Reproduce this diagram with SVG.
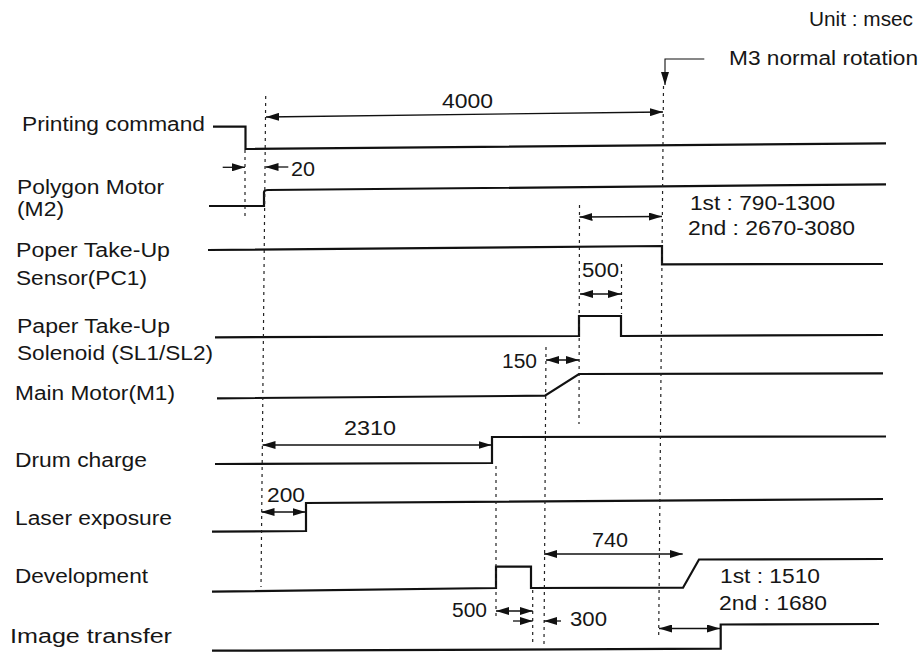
<svg xmlns="http://www.w3.org/2000/svg" width="924" height="656" viewBox="0 0 924 656">
<defs>
<marker id="ah" markerUnits="userSpaceOnUse" markerWidth="13" markerHeight="8" refX="13" refY="4" orient="auto-start-reverse">
<path d="M0,0 L13,4 L0,8 Z" fill="#111"/>
</marker>
<style>
text{font-family:"Liberation Sans",Arial,Helvetica,sans-serif;font-size:20px;fill:#161616}
.sig{fill:none;stroke:#111;stroke-width:2.2;stroke-linejoin:miter}
.dash{fill:none;stroke:#222;stroke-width:1.2;stroke-dasharray:3 4}
.dim{fill:none;stroke:#111;stroke-width:1.3}
.dim2{fill:none;stroke:#111;stroke-width:1.3;marker-start:url(#ah);marker-end:url(#ah)}
.dim1{fill:none;stroke:#111;stroke-width:1.3;marker-end:url(#ah)}
</style>
</defs>
<rect width="924" height="656" fill="#fff"/>

<g id="header">
<text x="809" y="26" textLength="104" lengthAdjust="spacingAndGlyphs">Unit : msec</text>
<text x="729" y="65" textLength="189" lengthAdjust="spacingAndGlyphs">M3 normal rotation</text>
</g>

<g id="printing-command">
<text x="22" y="131" textLength="183" lengthAdjust="spacingAndGlyphs">Printing command</text>
<path class="sig" d="M213,126.7 H245.5 V149 L886,143.3"/>
</g>

<g id="polygon-motor">
<text x="17" y="193.5" textLength="147" lengthAdjust="spacingAndGlyphs">Polygon Motor</text>
<text x="17" y="216" textLength="47" lengthAdjust="spacingAndGlyphs">(M2)</text>
<path class="sig" d="M209,206 H264 V192 Q264.5,190 268,190 L886,184.3"/>
</g>

<g id="paper-sensor">
<text x="16" y="257" textLength="154" lengthAdjust="spacingAndGlyphs">Poper Take-Up</text>
<text x="16" y="285" textLength="131" lengthAdjust="spacingAndGlyphs">Sensor(PC1)</text>
<path class="sig" d="M208,250 L662,246 V264.3 L883,264"/>
</g>

<g id="paper-solenoid">
<text x="17" y="333" textLength="153" lengthAdjust="spacingAndGlyphs">Paper Take-Up</text>
<text x="17" y="360" textLength="196" lengthAdjust="spacingAndGlyphs">Solenoid (SL1/SL2)</text>
<path class="sig" d="M215,337.3 L579,336 V316 H621 V336 L883,335"/>
</g>

<g id="main-motor">
<text x="15" y="400" textLength="160" lengthAdjust="spacingAndGlyphs">Main Motor(M1)</text>
<path class="sig" d="M217,398.3 L545,395.7 L579,374 L883,373.3"/>
</g>

<g id="drum-charge">
<text x="15" y="467" textLength="132" lengthAdjust="spacingAndGlyphs">Drum charge</text>
<path class="sig" d="M215,464 L492,463 V437 L886,436.5"/>
</g>

<g id="laser-exposure">
<text x="15" y="525" textLength="157" lengthAdjust="spacingAndGlyphs">Laser exposure</text>
<path class="sig" d="M212,531.7 L306,531 V503 L883,499"/>
</g>

<g id="development">
<text x="15" y="583" textLength="133" lengthAdjust="spacingAndGlyphs">Development</text>
<path class="sig" d="M212,591.7 L496,588 V566.7 H531 V588 L683,587.7 L699,559.5 L883,559"/>
</g>

<g id="image-transfer">
<text x="10" y="643" textLength="162" lengthAdjust="spacingAndGlyphs">Image transfer</text>
<path class="sig" d="M212,650.7 L720.7,648.7 V624.5 L879,624"/>
</g>

<g id="guides">
<line class="dash" x1="245" y1="150" x2="245" y2="216"/>
<line class="dash" x1="265.7" y1="96" x2="261" y2="587"/>
<line class="dash" x1="546" y1="347" x2="544" y2="644"/>
<line class="dash" x1="579.5" y1="205" x2="579" y2="424"/>
<line class="dash" x1="621.5" y1="264" x2="621.5" y2="314"/>
<line class="dash" x1="663.5" y1="86" x2="658.7" y2="636"/>
<line class="dash" x1="496" y1="466" x2="496" y2="620"/>
<line class="dash" x1="532.7" y1="590" x2="532.7" y2="643"/>
</g>

<g id="connectors">
<line class="dim2" x1="266" y1="117" x2="663" y2="112"/>
<line class="dim1" x1="222.7" y1="167.3" x2="245" y2="167.3"/>
<line class="dim1" x1="288.3" y1="167" x2="265.5" y2="167"/>
<polyline class="dim1" points="704.3,59 665,59 665,85" style="stroke-width:1.1"/>
<line class="dim2" x1="579.5" y1="217" x2="662" y2="216.5"/>
<line class="dim2" x1="580" y1="294" x2="621" y2="294"/>
<line class="dim2" x1="546" y1="360" x2="579" y2="360"/>
<line class="dim2" x1="262.5" y1="445" x2="491.5" y2="445"/>
<line class="dim2" x1="261.5" y1="512" x2="305.5" y2="512"/>
<line class="dim2" x1="544" y1="554" x2="682.7" y2="554"/>
<line class="dim2" x1="496" y1="611" x2="532.7" y2="611"/>
<line class="dim1" x1="513" y1="621" x2="532.7" y2="621"/>
<line class="dim1" x1="561" y1="621" x2="544" y2="621"/>
<line class="dim2" x1="659" y1="628.5" x2="720" y2="628.5"/>
</g>

<g id="labels">
<text x="442" y="108" textLength="51" lengthAdjust="spacingAndGlyphs">4000</text>
<text x="291" y="175.5" textLength="24" lengthAdjust="spacingAndGlyphs">20</text>
<text x="690" y="210" textLength="145" lengthAdjust="spacingAndGlyphs">1st : 790-1300</text>
<text x="688" y="235" textLength="167" lengthAdjust="spacingAndGlyphs">2nd : 2670-3080</text>
<text x="582" y="277" textLength="37" lengthAdjust="spacingAndGlyphs">500</text>
<text x="502" y="368" textLength="35" lengthAdjust="spacingAndGlyphs">150</text>
<text x="344" y="435" textLength="52" lengthAdjust="spacingAndGlyphs">2310</text>
<text x="267" y="502" textLength="38" lengthAdjust="spacingAndGlyphs">200</text>
<text x="592" y="547" textLength="36" lengthAdjust="spacingAndGlyphs">740</text>
<text x="720" y="583" textLength="100" lengthAdjust="spacingAndGlyphs">1st : 1510</text>
<text x="719" y="610" textLength="108" lengthAdjust="spacingAndGlyphs">2nd : 1680</text>
<text x="452" y="617" textLength="35" lengthAdjust="spacingAndGlyphs">500</text>
<text x="570" y="626" textLength="37" lengthAdjust="spacingAndGlyphs">300</text>
</g>
</svg>
